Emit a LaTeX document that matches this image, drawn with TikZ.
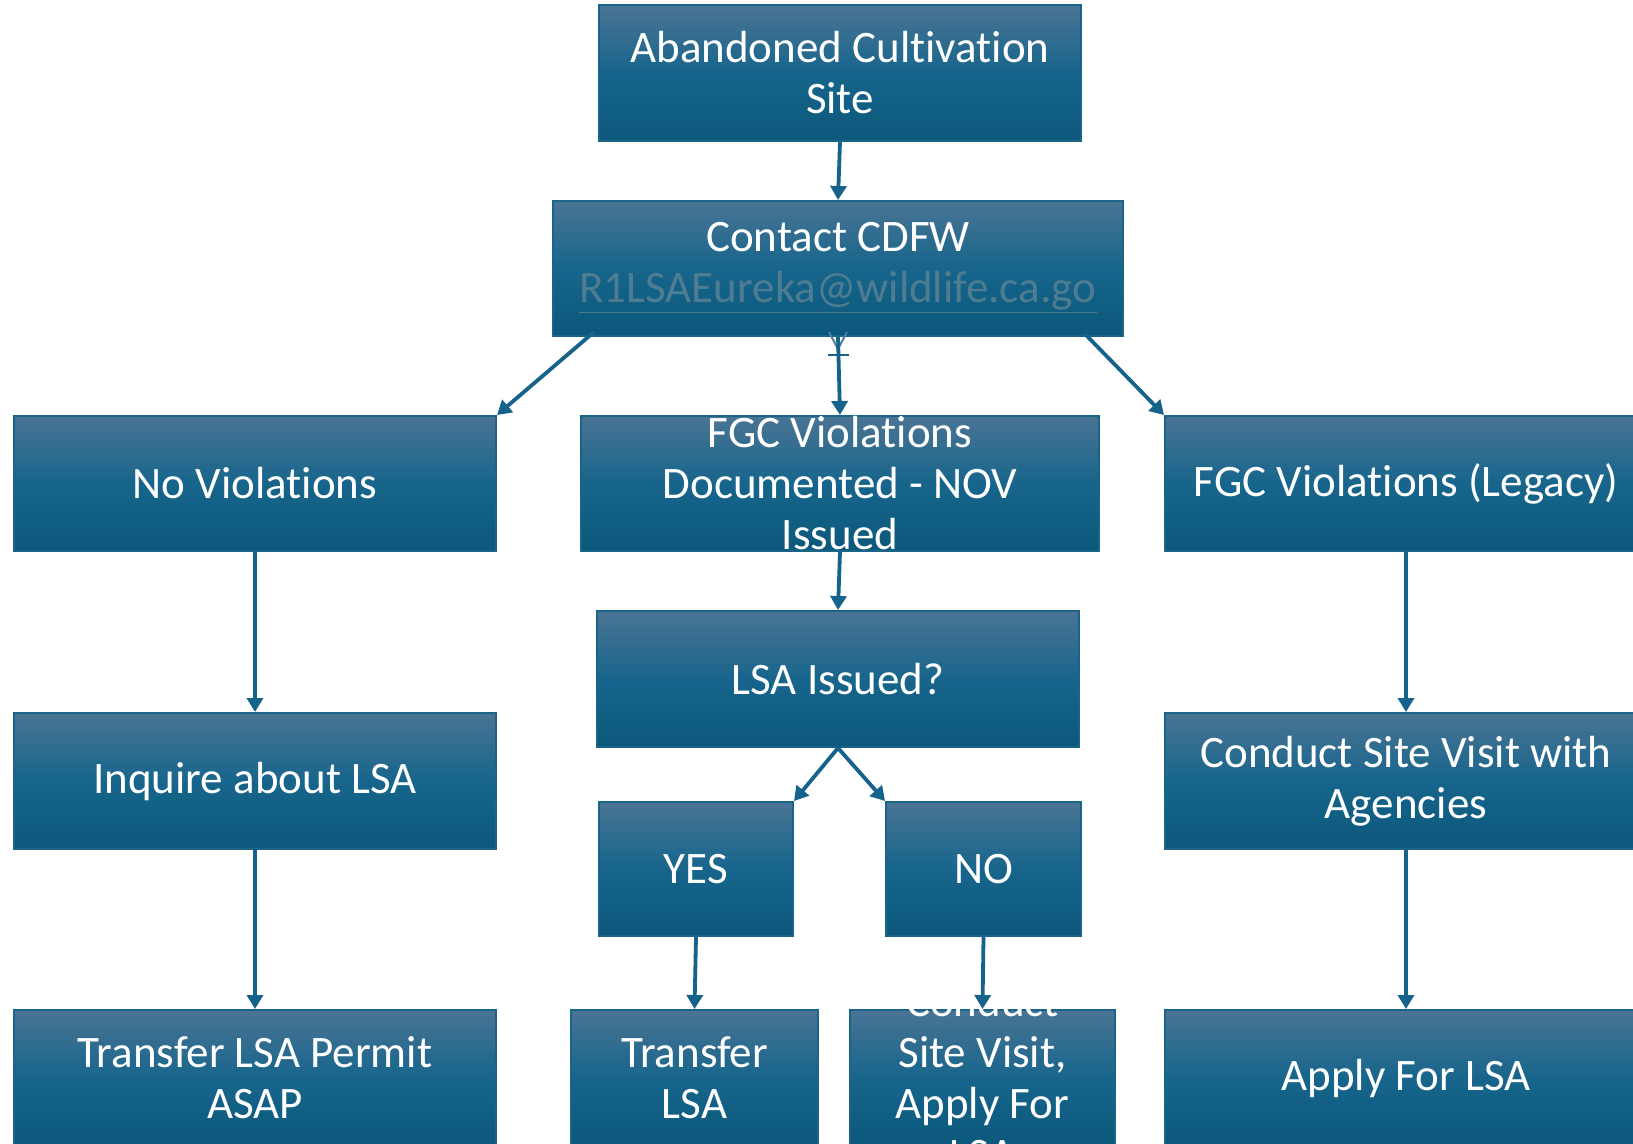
\documentclass[tikz,border=0pt]{standalone}
\usepackage{fontspec}
\setmainfont[Ligatures={NoCommon,NoContextual,NoRare}]{Carlito}
\usetikzlibrary{arrows.meta}
\definecolor{cT}{HTML}{4A7494}
\definecolor{cM}{HTML}{17658C}
\definecolor{cB}{HTML}{0C587C}
\definecolor{edge}{HTML}{1A6488}
\definecolor{arr}{HTML}{15628A}
\definecolor{ghost}{HTML}{4D7F9E}
\definecolor{mail}{HTML}{4E7D91}
\tikzset{
  box/.style 2 args={draw=edge, line width=1pt, top color=cT, bottom color=cB, middle color=cM,
    inner sep=0pt, minimum width=#1*0.5pt, minimum height=#2*0.5pt},
  txt/.style={text=white, align=center, inner sep=0pt, font=\fontsize{22.5}{25.5}\selectfont},
  conn/.style={draw=arr, line width=1.9pt, -{Triangle[length=7pt,width=8pt]}}
}
\begin{document}
\begin{tikzpicture}[x=0.5pt,y=-0.5pt]
\useasboundingbox (0,0) rectangle (1633,1144);
\clip (0,0) rectangle (1633,1144);
\fill[white] (0,0) rectangle (1633,1144);

% boxes
\node[box={482}{136}] (abandon) at (840,73) {};
\node[box={570}{135}] (contact) at (838,268.5) {};
\node[box={482}{135}] (noviol) at (255,483.5) {};
\node[box={518}{135}] (fgcdoc) at (840,483.5) {};
\node[box={482}{135}] (legacy) at (1406,483.5) {};
\node[box={482}{136}] (inquire) at (255,781) {};
\node[box={482}{136}] (lsaiss) at (838,679) {};
\node[box={482}{136}] (condag) at (1406,781) {};
\node[box={194}{134}] (yes) at (696,869) {};
\node[box={195}{134}] (no) at (983.5,869) {};
\node[box={482}{136}] (trperm) at (255,1078) {};
\node[box={247}{136}] (trlsa) at (694.5,1078) {};
\node[box={265}{136}] (condapp) at (982.5,1078) {};
\node[box={482}{136}] (apply) at (1406,1078) {};

% texts
\node[txt] (t1) at (840,73) {Abandoned Cultivation\\Site};
\node[txt] (t2) at (838,268) {Contact CDFW\\\textcolor{mail}{\underline{R1LSAEureka@wildlife.ca.go}}};
\node[txt] (t3) at (255,483.5) {No Violations};
\node[txt] (t4) at (840,483.5) {FGC Violations\\Documented - NOV\\Issued};
\node[txt] (t5) at (1406,483.5) {FGC Violations (Legacy)};
\node[txt] (t6) at (255,781) {Inquire about LSA};
\node[txt] (t7) at (838,679) {LSA Issued?};
\node[txt] (t8) at (1406,781) {Conduct Site Visit with\\Agencies};
\node[txt] (t9) at (696,869) {YES};
\node[txt] (t10) at (983.5,869) {NO};
\node[txt] (t11) at (255,1078) {Transfer LSA Permit\\ASAP};
\node[txt] (t12) at (694.5,1078) {Transfer\\LSA};
\node[txt] (t13) at (982.5,1078) {Conduct\\Site Visit,\\Apply For\\LSA};
\node[txt] (t14) at (1406,1078) {Apply For LSA};

% ghost arrowhead artifact under Contact CDFW
\draw[ghost, line width=1pt] (829,332) -- (838,349) -- (847,332);
\draw[arr, line width=0.8pt] (828,355) -- (849,355);

% connectors
\coordinate (cl) at (594,332);
\coordinate (cr) at (1085,334);
\draw[conn] (abandon.south) -- (contact.north);
\draw[conn] (cl) -- (noviol.north east);
\draw[conn] (contact.south) -- (fgcdoc.north);
\draw[conn] (cr) -- (legacy.north west);
\draw[conn] (noviol.south) -- (inquire.north);
\draw[conn] (inquire.south) -- (trperm.north);
\draw[conn] (fgcdoc.south) -- (lsaiss.north);
\draw[conn] (lsaiss.south) -- (yes.north east);
\draw[conn] (lsaiss.south) -- (no.north west);
\draw[conn] (yes.south) -- (trlsa.north);
\draw[conn] (no.south) -- (condapp.north);
\draw[conn] (legacy.south) -- (condag.north);
\draw[conn] (condag.south) -- (apply.north);
\end{tikzpicture}
\end{document}
